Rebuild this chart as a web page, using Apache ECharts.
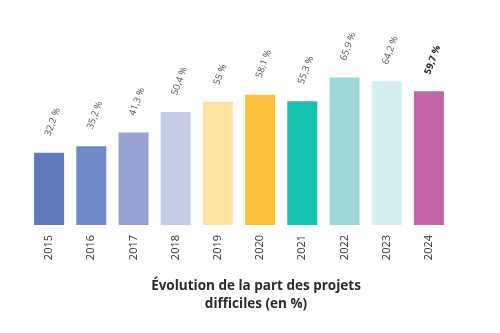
<!DOCTYPE html>
<html>
<head>
<meta charset="utf-8">
<script src="https://cdn.jsdelivr.net/npm/echarts@6/dist/echarts.min.js"></script>
<style>
  html, body { margin: 0; padding: 0; background: #fff; }
  #chart { width: 500px; height: 333px; }
</style>
</head>
<body>
<div id="chart"></div>
<script>
// Share of difficult projects per year
const years = ['2015', '2016', '2017', '2018', '2019', '2020', '2021', '2022', '2023', '2024'];
const shares = [32.2, 35.2, 41.3, 50.4, 55, 58.1, 55.3, 65.9, 64.2, 59.7];
const barColors = ['#5f79bf', '#7088c6', '#97a3d3', '#c4cce8', '#fde2a0', '#fdc03a', '#13c2b1', '#9ed8d8', '#d5eff0', '#c364a8'];
const titleLines = ['Évolution de la part des projets', 'difficiles (en %)'];

const fmt = v => String(v).replace('.', ',') + ' %';
const lastIdx = years.length - 1;

const chart = echarts.init(document.getElementById('chart'), null, { renderer: 'canvas' });
chart.setOption({
  animation: false,
  textStyle: { fontFamily: 'Open Sans' },
  title: {
    text: titleLines.join('\n'),
    left: 251,
    textAlign: 'center',
    top: 272,
    textStyle: { fontFamily: 'Open Sans', fontWeight: 'bold', fontSize: 13.5, color: '#2b2b2b', lineHeight: 18 }
  },
  grid: { left: 28, right: 50, top: 1, bottom: 108, containLabel: false },
  xAxis: {
    type: 'category',
    data: years,
    axisLine: { show: false },
    axisTick: { show: false },
    axisLabel: { rotate: 90, margin: 10, fontSize: 11, color: '#333', fontFamily: 'Open Sans' }
  },
  yAxis: {
    type: 'value',
    min: 0,
    max: 100,
    show: false,
    splitLine: { show: false }
  },
  series: [{
    type: 'bar',
    barWidth: 30,
    data: shares.map((v, i) => ({
      value: v,
      itemStyle: { color: barColors[i] },
      label: i === lastIdx ? { fontWeight: 'bold', color: '#222' } : undefined
    })),
    label: {
      show: true,
      position: 'top',
      distance: 21,
      rotate: 70,
      align: 'left',
      verticalAlign: 'middle',
      offset: [-4, 0],
      fontSize: 9.5,
      color: '#555',
      fontFamily: 'Open Sans',
      formatter: p => fmt(p.value)
    }
  }]
});
</script>
</body>
</html>
